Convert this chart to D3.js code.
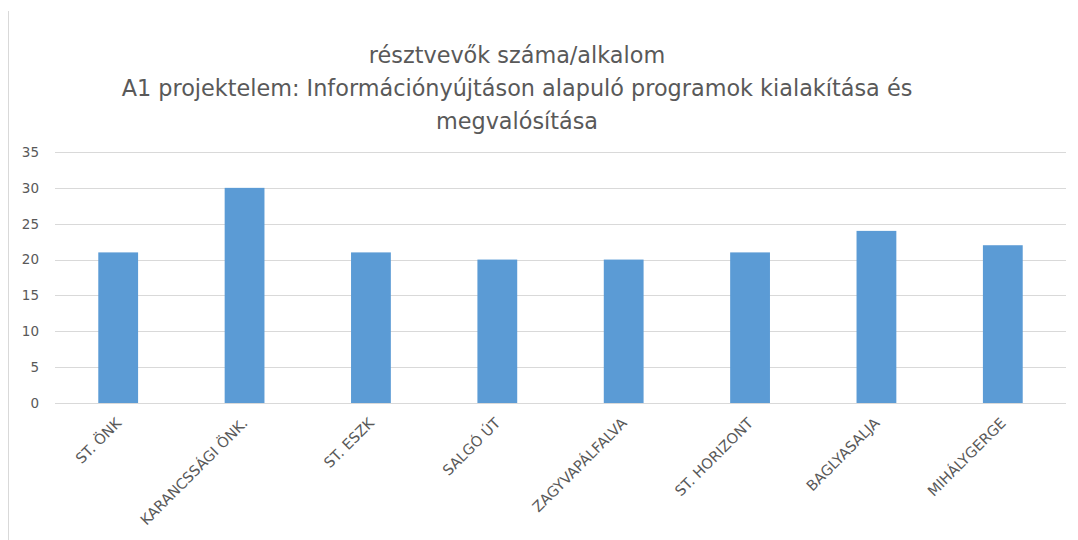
<!DOCTYPE html>
<html>
<head>
<meta charset="utf-8">
<script src="https://cdn.jsdelivr.net/npm/d3@7"></script>
<style>
  html, body { margin: 0; padding: 0; background: #fff; }
  svg { display: block; }
  text { font-family: "DejaVu Sans", sans-serif; fill: #595959; }
</style>
</head>
<body>
<script>
const categories = ["ST. ÖNK", "KARANCSSÁGI ÖNK.", "ST. ESZK", "SALGÓ ÚT", "ZAGYVAPÁLFALVA", "ST. HORIZONT", "BAGLYASALJA", "MIHÁLYGERGE"];
const values = [21, 30, 21, 20, 20, 21, 24, 22];
const yTicks = [0, 5, 10, 15, 20, 25, 30, 35];
const titleLines = ["résztvevők száma/alkalom", "A1 projektelem: Információnyújtáson alapuló programok kialakítása és", "megvalósítása"];

const W = 1078, H = 540;
const svg = d3.select("body").append("svg").attr("width", W).attr("height", H);

// left border of the chart frame
svg.append("line").attr("x1", 8.5).attr("x2", 8.5).attr("y1", 11).attr("y2", H)
  .attr("stroke", "#d9d9d9").attr("stroke-width", 1);

const x = d3.scaleBand().domain(categories).range([55, 1066]).paddingInner(0.685).paddingOuter(0.3425);
const y = d3.scaleLinear().domain([0, 35]).range([403, 152]);

// gridlines
svg.append("g").selectAll("line").data(yTicks).join("line")
  .attr("x1", 55).attr("x2", 1066)
  .attr("y1", d => Math.round(y(d)) + 0.5).attr("y2", d => Math.round(y(d)) + 0.5)
  .attr("stroke", "#d9d9d9").attr("stroke-width", 1);

// y axis labels
const yAxis = d3.axisLeft(y).tickValues(yTicks).tickSize(0).tickPadding(0);
const yg = svg.append("g").attr("transform", "translate(39,0)").call(yAxis);
yg.select(".domain").remove();
yg.selectAll("text").style("font-size", "13.5px").attr("fill", "#595959")
  .style("font-family", "'DejaVu Sans', sans-serif");

// bars
svg.append("g").selectAll("rect").data(values).join("rect")
  .attr("x", (d, i) => x(categories[i]))
  .attr("width", x.bandwidth())
  .attr("y", d => y(d))
  .attr("height", d => y(0) - y(d))
  .attr("fill", "#5b9bd5");

// x labels (rotated)
const xAxis = d3.axisBottom(x).tickSize(0).tickPadding(0);
const xg = svg.append("g").attr("transform", "translate(0,403)").call(xAxis);
xg.select(".domain").remove();
xg.selectAll("text")
  .style("font-size", "14.5px")
  .style("font-family", "'DejaVu Sans', sans-serif")
  .attr("fill", "#595959")
  .attr("text-anchor", "end")
  .attr("dy", null)
  .attr("y", null)
  .attr("transform", "translate(4,21) rotate(-45)");

// title
const title = svg.append("g");
const tt = title.selectAll("text").data(titleLines).join("text")
  .attr("x", 517)
  .attr("y", (d, i) => 63 + i * 33)
  .attr("text-anchor", "middle")
  .style("font-size", "22px")
  .text(d => d);
// fit font size so the long line spans the measured width
const w2 = tt.filter((d, i) => i === 1).node().getComputedTextLength();
tt.style("font-size", (22 * 791 / w2) + "px");
</script>
</body>
</html>
